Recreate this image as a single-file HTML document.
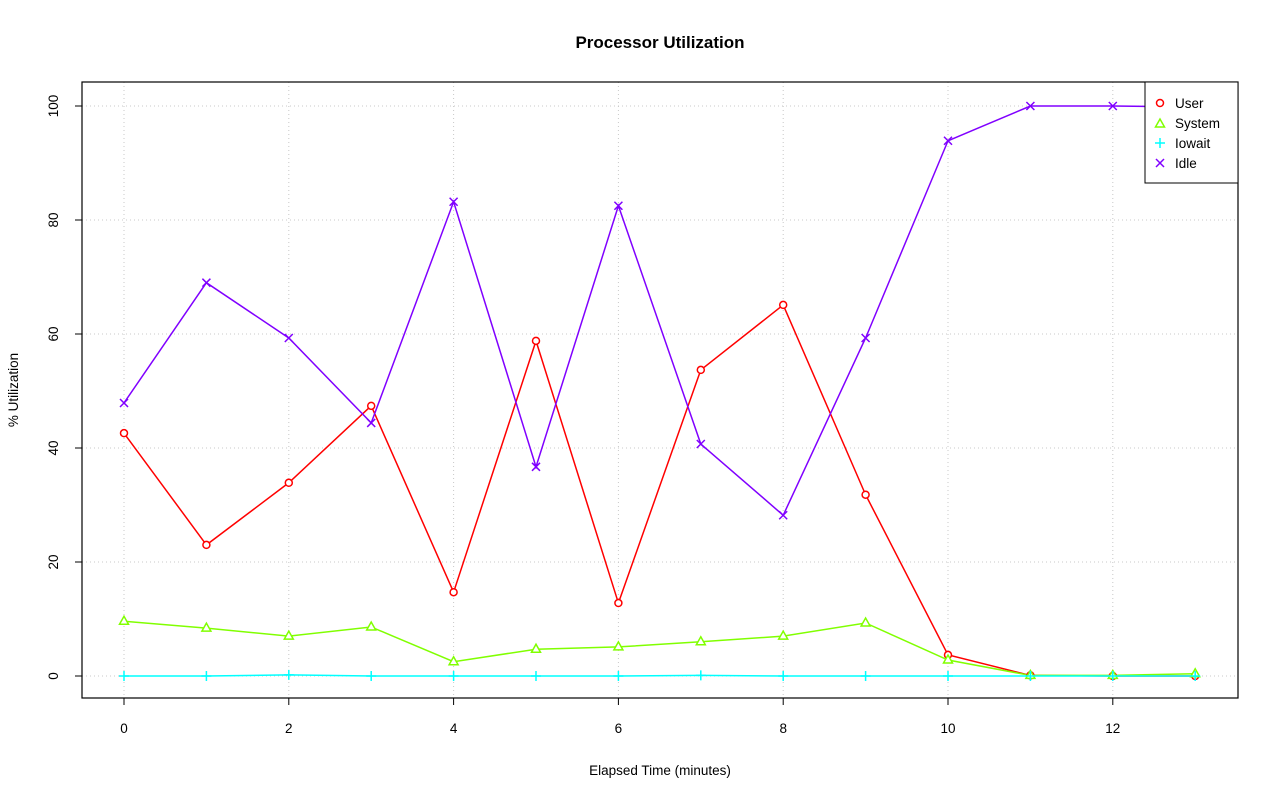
<!DOCTYPE html>
<html><head><style>body{margin:0;background:#fff}svg{display:block}text{font-family:"Liberation Sans",sans-serif}</style></head><body>
<svg width="1280" height="801" xmlns="http://www.w3.org/2000/svg">
<rect width="1280" height="801" fill="#fff"/>
<g id="grid" stroke="#c8c8c8" stroke-dasharray="1,3" stroke-width="1"></g>
<rect x="82" y="82" width="1156" height="616" fill="none" stroke="#000" stroke-width="1.2"/>
<text x="660" y="48" font-size="17" font-weight="bold" text-anchor="middle">Processor Utilization</text>
<text x="660" y="775" font-size="13.5" text-anchor="middle">Elapsed Time (minutes)</text>
<text transform="translate(18,390) rotate(-90)" font-size="13.5" text-anchor="middle">% Utilization</text>
<g id="axes" stroke="#000" font-size="13.5"></g>
<g id="series"></g>
<rect x="1145" y="82" width="93" height="101" fill="#fff" stroke="#000"/>
<g font-size="13.5">
<circle cx="1160" cy="103" r="3.5" fill="none" stroke="#ff0000" stroke-width="1.5"/><text x="1175" y="108">User</text>
<path d="M1155.5,127 L1164.5,127 L1160,119 Z" fill="none" stroke="#80ff00" stroke-width="1.5"/><text x="1175" y="128">System</text>
<path d="M1155,143 h10 M1160,138 v10" stroke="#00ffff" stroke-width="1.5"/><text x="1175" y="148">Iowait</text>
<path d="M1156,159 l8,8 M1164,159 l-8,8" stroke="#8000ff" stroke-width="1.5"/><text x="1175" y="168">Idle</text>
</g>
<script>
var NS="http://www.w3.org/2000/svg";
function X(i){return 124+82.4*i}function Y(v){return 676-5.7*v}
function el(p,t,a,txt){var e=document.createElementNS(NS,t);for(var k in a)e.setAttribute(k,a[k]);if(txt!=null)e.textContent=txt;p.appendChild(e);return e}
var g=document.getElementById('grid'),ax=document.getElementById('axes'),s=document.getElementById('series');
for(var i=0;i<=12;i+=2){el(g,'line',{x1:X(i),x2:X(i),y1:82,y2:698});el(ax,'line',{x1:X(i),x2:X(i),y1:698,y2:705});el(ax,'text',{x:X(i),y:733,'text-anchor':'middle',stroke:'none'},i)}
el(ax,'line',{x1:X(0),x2:X(12),y1:698,y2:698});
for(var v=0;v<=100;v+=20){el(g,'line',{x1:82,x2:1238,y1:Y(v),y2:Y(v)});el(ax,'line',{x1:75,x2:82,y1:Y(v),y2:Y(v)});el(ax,'text',{x:0,y:0,'text-anchor':'middle',stroke:'none',transform:'translate(58,'+Y(v)+') rotate(-90)'},v)}
el(ax,'line',{x1:82,x2:82,y1:Y(0),y2:Y(100)});
var D={
user:[42.6,23,33.9,47.4,14.7,58.8,12.8,53.7,65.1,31.8,3.7,0.1,0,0],
sys:[9.6,8.4,7.0,8.6,2.5,4.7,5.1,6.0,7.0,9.3,2.8,0.1,0.1,0.4],
io:[0,0,0.2,0,0,0,0,0.1,0,0,0,0,0,0],
idle:[47.9,69,59.3,44.4,83.2,36.7,82.5,40.7,28.2,59.3,93.9,100,100,99.8]};
function line(d,c){el(s,'polyline',{points:d.map(function(v,i){return X(i)+','+Y(v)}).join(' '),fill:'none',stroke:c,'stroke-width':1.5})}
line(D.user,'#ff0000');line(D.sys,'#80ff00');line(D.io,'#00ffff');line(D.idle,'#8000ff');
D.user.forEach(function(v,i){el(s,'circle',{cx:X(i),cy:Y(v),r:3.5,fill:'#fff',stroke:'#ff0000','stroke-width':1.5})});
D.sys.forEach(function(v,i){var x=X(i),y=Y(v);el(s,'path',{d:'M'+(x-4.5)+','+(y+3)+' L'+(x+4.5)+','+(y+3)+' L'+x+','+(y-5)+' Z',fill:'#fff',stroke:'#80ff00','stroke-width':1.5})});
D.io.forEach(function(v,i){var x=X(i),y=Y(v);el(s,'path',{d:'M'+(x-5)+','+y+' h10 M'+x+','+(y-5)+' v10',stroke:'#00ffff','stroke-width':1.5})});
D.idle.forEach(function(v,i){var x=X(i),y=Y(v);el(s,'path',{d:'M'+(x-4)+','+(y-4)+' l8,8 M'+(x+4)+','+(y-4)+' l-8,8',stroke:'#8000ff','stroke-width':1.5})});
</script>
</svg>
</body></html>
